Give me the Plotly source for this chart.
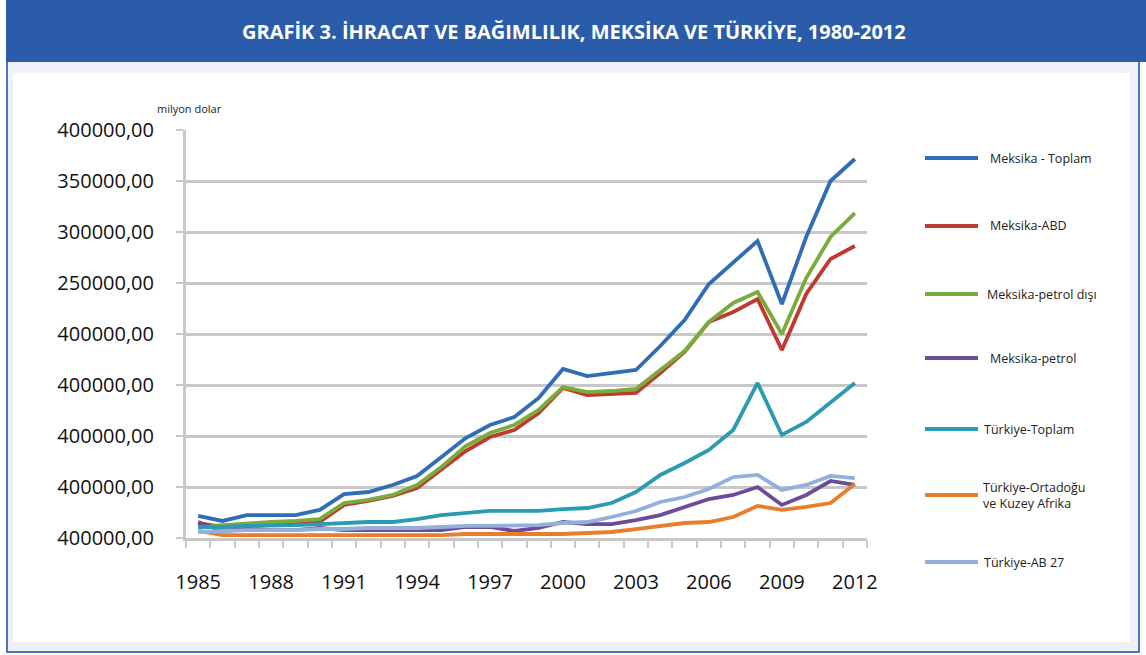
import plotly.graph_objects as go

W, H = 1146, 655

years = list(range(1985, 2013))

meksika_toplam = [21600, 16700, 22500, 22500, 22500, 27500, 43100, 45100, 52000, 60800,
                  79400, 98000, 110800, 118600, 137300, 165700, 158800, 161800, 164700, 188200,
                  213700, 249000, 270600, 291200, 229400, 295100, 350000, 371600]
meksika_abd = [14700, 10800, 11800, 12700, 13700, 15700, 32400, 36300, 41200, 49000,
               66700, 85300, 99000, 105900, 122500, 147100, 140200, 141200, 142200, 161800,
               182400, 211800, 221600, 234300, 184300, 239200, 273500, 286300]
meksika_petrol_disi = [10800, 12700, 14700, 15700, 16700, 18600, 34300, 37300, 42200, 52000,
                       69600, 90200, 102900, 110800, 125500, 148000, 143100, 144100, 146100, 164700,
                       183300, 211800, 230400, 241200, 200000, 254900, 295100, 318600]
meksika_petrol = [15700, 6900, 8800, 7800, 7800, 9800, 7800, 7800, 6900, 6900,
                  7800, 10800, 10800, 6900, 9800, 15700, 13700, 13700, 17600, 22500,
                  30400, 38200, 42200, 50000, 32400, 42200, 55900, 52000]
turkiye_toplam = [10800, 10800, 11800, 11800, 12700, 13700, 14700, 15700, 15700, 18600,
                  22500, 24500, 26500, 26500, 26500, 28400, 29400, 34300, 45100, 61800,
                  73500, 86300, 105900, 152000, 101000, 113700, 133300, 152000]
turkiye_ortadogu = [6900, 2900, 2900, 2900, 2000, 2000, 2000, 2000, 2000, 2900,
                    2900, 3900, 3900, 3900, 3900, 3900, 4900, 5900, 8800, 11800,
                    14700, 15700, 20600, 31400, 27500, 30400, 34300, 52900]
turkiye_ab27 = [5900, 6900, 7800, 7800, 7800, 8800, 8800, 9800, 9800, 9800,
                10800, 11800, 11800, 11800, 12700, 14700, 15700, 20600, 26500, 35300,
                40200, 48000, 59800, 61800, 47100, 52000, 60800, 58800]

series_names = ["Meksika - Toplam", "Meksika-ABD", "Meksika-petrol dışı", "Meksika-petrol",
                "Türkiye-Toplam", "Türkiye-Ortadoğu<br>ve Kuzey Afrika", "Türkiye-AB 27"]
series_values = [meksika_toplam, meksika_abd, meksika_petrol_disi, meksika_petrol,
                 turkiye_toplam, turkiye_ortadogu, turkiye_ab27]
colors = ["#2f6db4", "#c0392f", "#7bab3c", "#6b4c9a", "#2b9bb3", "#e87e2c", "#93afdc"]

y_tick_vals = [0, 50000, 100000, 150000, 200000, 250000, 300000, 350000, 400000]
y_tick_text = ["400000,00", "400000,00", "400000,00", "400000,00", "400000,00",
               "250000,00", "300000,00", "350000,00", "400000,00"]
x_tick_vals = [1985, 1988, 1991, 1994, 1997, 2000, 2003, 2006, 2009, 2012]

title_text = "GRAFİK 3. İHRACAT VE BAĞIMLILIK, MEKSİKA VE TÜRKİYE, 1980-2012"


def px(x):
    return x / W


def py(y):
    return 1 - y / H


fig = go.Figure()
for name, vals, col in zip(series_names, series_values, colors):
    fig.add_trace(go.Scatter(x=years, y=vals, mode="lines", name=name,
                             line=dict(color=col, width=3.8), showlegend=False,
                             hoverinfo="x+y+name"))

shapes = [
    dict(type="rect", xref="paper", yref="paper", x0=px(7), x1=px(1139), y0=py(652), y1=py(60),
         fillcolor="#eff0f8", line=dict(color="#4a78c0", width=2), layer="below"),
    dict(type="rect", xref="paper", yref="paper", x0=px(6), x1=px(1146), y0=py(62), y1=py(0),
         fillcolor="#2a5caa", line=dict(width=0), layer="below"),
    dict(type="rect", xref="paper", yref="paper", x0=px(13), x1=px(1130), y0=py(642), y1=py(73),
         fillcolor="#ffffff", line=dict(width=0), layer="below"),
]

legend_y = [158, 226, 294, 358, 429, 495, 562]
legend_tx = [988, 988, 985, 988, 982, 981, 982]
annotations = [
    dict(text=title_text, xref="paper", yref="paper", x=px(574), y=py(31),
         xanchor="center", yanchor="middle", showarrow=False,
         font=dict(family="Open Sans", size=20, color="white", weight="bold")),
    dict(text="milyon dolar", xref="paper", yref="paper", x=px(155), y=py(109),
         xanchor="left", yanchor="middle", showarrow=False,
         font=dict(family="Open Sans", size=11, color="#222")),
]
for name, col, ly, tx in zip(series_names, colors, legend_y, legend_tx):
    shapes.append(dict(type="line", xref="paper", yref="paper", x0=px(925), x1=px(978),
                       y0=py(ly), y1=py(ly), line=dict(color=col, width=4)))
    annotations.append(dict(text=name, xref="paper", yref="paper", x=px(tx), y=py(ly),
                            xanchor="left", yanchor="middle", align="left", showarrow=False,
                            font=dict(family="Open Sans", size=12.5, color="#222")))

fig.update_layout(
    width=W, height=H,
    margin=dict(l=0, r=0, t=0, b=0, pad=0, autoexpand=False),
    paper_bgcolor="white", plot_bgcolor="rgba(0,0,0,0)",
    shapes=shapes, annotations=annotations,
    xaxis=dict(domain=[px(186), px(867)], range=[1984.5, 2012.5], automargin=False,
               tickvals=x_tick_vals, ticks="", showgrid=False, zeroline=False,
               showline=True, linecolor="#c8c8c8", linewidth=3,
               ticklabelstandoff=24,
               tickfont=dict(family="Open Sans", size=20, color="#111"),
               minor=dict(ticks="outside", tick0=1984.5, dtick=1, ticklen=7,
                          tickwidth=2, tickcolor="#c8c8c8", showgrid=False)),
    yaxis=dict(domain=[1 - 538 / H, 1 - 130 / H], range=[0, 400000], automargin=False,
               tickvals=y_tick_vals, ticktext=y_tick_text,
               ticks="outside", ticklen=7, tickwidth=2, tickcolor="#c8c8c8",
               showgrid=True, gridcolor="#c8c8c8", gridwidth=2.5, zeroline=False,
               showline=True, linecolor="#c8c8c8", linewidth=3,
               ticklabelstandoff=18,
               tickfont=dict(family="Open Sans", size=20, color="#111")),
)

fig.write_html("out.html", config={"displayModeBar": False},
               post_script="document.body.style.margin='0';document.body.style.padding='0';")
